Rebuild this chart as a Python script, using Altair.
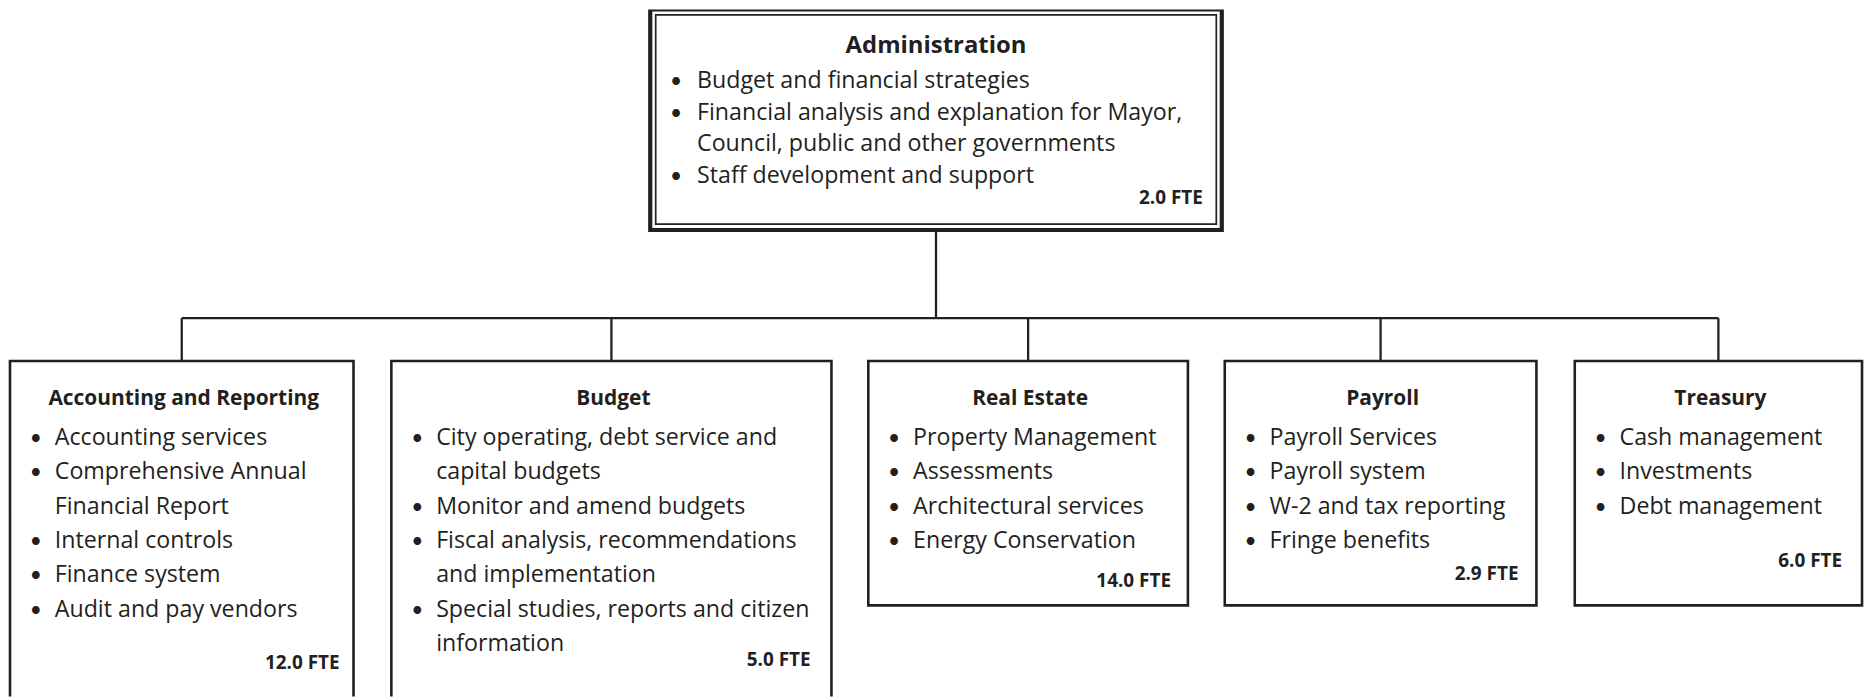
import altair as alt
import pandas as pd

# ---------------- data ----------------
head_name = "Administration"
head_duties = [
    ["Budget and financial strategies"],
    ["Financial analysis and explanation for Mayor,", "Council, public and other governments"],
    ["Staff development and support"],
]
head_fte = "2.0 FTE"

dept_names = ["Accounting and Reporting", "Budget", "Real Estate", "Payroll", "Treasury"]
dept_fte = ["12.0 FTE", "5.0 FTE", "14.0 FTE", "2.9 FTE", "6.0 FTE"]
accounting_duties = [
    ["Accounting services"],
    ["Comprehensive Annual", "Financial Report"],
    ["Internal controls"],
    ["Finance system"],
    ["Audit and pay vendors"],
]
budget_duties = [
    ["City operating, debt service and", "capital budgets"],
    ["Monitor and amend budgets"],
    ["Fiscal analysis, recommendations", "and implementation"],
    ["Special studies, reports and citizen", "information"],
]
real_estate_duties = [
    ["Property Management"],
    ["Assessments"],
    ["Architectural services"],
    ["Energy Conservation"],
]
payroll_duties = [
    ["Payroll Services"],
    ["Payroll system"],
    ["W-2 and tax reporting"],
    ["Fringe benefits"],
]
treasury_duties = [
    ["Cash management"],
    ["Investments"],
    ["Debt management"],
]
dept_duties = [accounting_duties, budget_duties, real_estate_duties, payroll_duties, treasury_duties]

# ---------------- layout (diagram geometry, in page pixels) ----------------
INK = "#231f20"
FONT = "Open Sans"
BODY = 23.3
head_outer = (653, 1227, 8, 229.5)
head_inner = (658.5, 1221.5, 13.5, 223.5)
head_title_y = 52
head_line0, head_step = 87, 31.7
head_bullet_x, head_text_x = 679, 700
head_fte_x, head_fte_y = 1208, 203
bus_y = 318
box_top = 361
box_left = [10, 393, 872, 1230, 1581.5]
box_right = [355, 835, 1193, 1543, 1870]
box_bottom = [760, 760, 606.5, 606.5, 606.5]
fte_y = [670, 667, 588, 581, 568]
fte_pad = [14, 21, 17, 18, 20]
title_y = 405
line0, step = 445, 34.6
bullet_off, text_off = 26, 45

# ---------------- build tables ----------------
boxes = pd.DataFrame({"x": box_left, "x2": box_right,
                      "y": [box_top] * 5, "y2": box_bottom})
outer = pd.DataFrame([dict(x=head_outer[0], x2=head_outer[1], y=head_outer[2], y2=head_outer[3])])
inner = pd.DataFrame([dict(x=head_inner[0], x2=head_inner[1], y=head_inner[2], y2=head_inner[3])])

head_cx = (head_outer[0] + head_outer[1]) / 2
centers = [(l + r) / 2 for l, r in zip(box_left, box_right)]
rules = [dict(x=head_cx, x2=head_cx, y=head_outer[3], y2=bus_y),
         dict(x=centers[0], x2=centers[-1], y=bus_y, y2=bus_y)]
for c in centers:
    rules.append(dict(x=c, x2=c, y=bus_y, y2=box_top))
rules = pd.DataFrame(rules)

titles = [dict(x=head_cx, y=head_title_y, t=head_name, s=24)]
for name, c in zip(dept_names, centers):
    titles.append(dict(x=c + 2, y=title_y, t=name, s=21))
titles = pd.DataFrame(titles)

bullets, lines = [], []
k = 0
for item in head_duties:
    for j, ln in enumerate(item):
        y = head_line0 + k * head_step
        if j == 0:
            bullets.append(dict(x=head_bullet_x, y=y))
        lines.append(dict(x=head_text_x, y=y, t=ln))
        k += 1
for duties, left in zip(dept_duties, box_left):
    k = 0
    for item in duties:
        for j, ln in enumerate(item):
            y = line0 + k * step
            if j == 0:
                bullets.append(dict(x=left + bullet_off, y=y))
            lines.append(dict(x=left + text_off, y=y, t=ln))
            k += 1
bullets = pd.DataFrame(bullets)
bullets["t"] = "\u2022"
lines = pd.DataFrame(lines)

ftes = [dict(x=head_fte_x, y=head_fte_y, t=head_fte)]
for f, r, p, y in zip(dept_fte, box_right, fte_pad, fte_y):
    ftes.append(dict(x=r - p, y=y, t=f))
ftes = pd.DataFrame(ftes)

# ---------------- chart ----------------
xs = alt.Scale(domain=[8, 1875], nice=False, zero=False)
ys = alt.Scale(domain=[8, 698], nice=False, zero=False, reverse=True)
X = alt.X("x:Q", scale=xs, axis=None)
Y = alt.Y("y:Q", scale=ys, axis=None)

def rect_layer(df, sw):
    return alt.Chart(df).mark_rect(fill="white", stroke=INK, strokeWidth=sw, clip=True).encode(
        x=X, x2="x2:Q", y=Y, y2="y2:Q")

box_layer = rect_layer(boxes, 2.6)
outer_layer = rect_layer(outer, 4.2)
inner_layer = rect_layer(inner, 1.7)
rule_layer = alt.Chart(rules).mark_rule(color=INK, strokeWidth=2.3).encode(
    x=X, x2="x2:Q", y=Y, y2="y2:Q")
title_layer = alt.Chart(titles).mark_text(
    align="center", baseline="alphabetic", font=FONT, fontWeight="bold", color=INK).encode(
    x=X, y=Y, text="t:N", size=alt.Size("s:Q", scale=None, legend=None))
bullet_layer = alt.Chart(bullets).mark_text(
    align="center", baseline="alphabetic", font="Lato", fontSize=21, color=INK).encode(
    x=X, y=Y, text="t:N")
line_layer = alt.Chart(lines).mark_text(
    align="left", baseline="alphabetic", font=FONT, fontSize=BODY, color=INK).encode(
    x=X, y=Y, text="t:N")
fte_layer = alt.Chart(ftes).mark_text(
    align="right", baseline="alphabetic", font=FONT, fontSize=19, fontWeight="bold", color=INK).encode(
    x=X, y=Y, text="t:N")

chart = alt.layer(box_layer, outer_layer, inner_layer, rule_layer,
                  title_layer, bullet_layer, line_layer, fte_layer).properties(
    width=1867, height=690, padding=0, autosize="none"
).configure_view(stroke=None)

chart.save("out.html", embed_options={"renderer": "svg", "actions": False})
